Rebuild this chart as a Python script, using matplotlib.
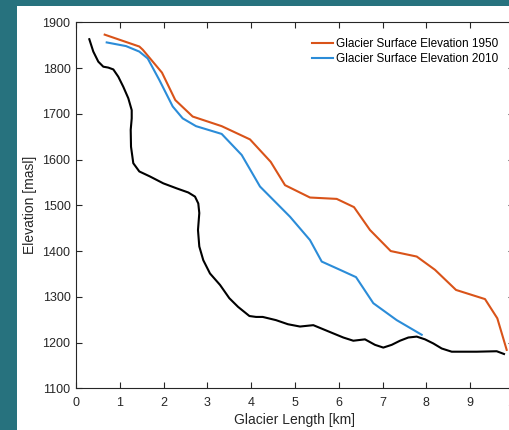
import matplotlib
matplotlib.use("Agg")
import matplotlib.pyplot as plt
from matplotlib.patches import Rectangle

# glacier surface 1950 (km, masl)
km_1950 = [0.655, 1.447, 1.525, 1.963, 2.267, 2.664, 3.326, 3.973, 4.445, 4.772,
           5.342, 5.952, 6.347, 6.712, 7.185, 7.779, 8.196, 8.676, 9.338, 9.619, 9.833]
elev_1950 = [1873, 1847, 1840, 1790, 1730, 1694, 1673, 1644, 1595, 1544,
             1517, 1514, 1496, 1446, 1400, 1388, 1359, 1315, 1295, 1253, 1184]

# glacier surface 2010
km_2010 = [0.701, 1.142, 1.445, 1.637, 1.902, 2.208, 2.436, 2.74, 3.326, 3.783,
           4.201, 4.886, 5.342, 5.61, 6.027, 6.393, 6.788, 7.322, 7.893]
elev_2010 = [1856, 1848, 1836, 1821, 1774, 1716, 1690, 1673, 1656, 1610,
             1541, 1475, 1424, 1377, 1359, 1343, 1286, 1249, 1217]

# glacier bed
km_bed = [0.304, 0.395, 0.509, 0.623, 0.737, 0.852, 0.966, 1.08, 1.194, 1.272,
          1.272, 1.249, 1.256, 1.308, 1.445, 1.689, 1.993, 2.299, 2.564, 2.717,
          2.792, 2.815, 2.785, 2.815, 2.906, 3.059, 3.288, 3.5, 3.70, 3.959,
          4.11, 4.263, 4.566, 4.84, 5.114, 5.418, 5.646, 5.874, 6.103, 6.331,
          6.598, 6.826, 7.016, 7.208, 7.397, 7.587, 7.779, 7.968, 8.158, 8.35,
          8.578, 9.148, 9.605, 9.772]
elev_bed = [1863, 1836, 1814, 1803, 1801, 1797, 1781, 1759, 1734, 1708,
            1690, 1665, 1628, 1592, 1574, 1563, 1548, 1537, 1528, 1519,
            1504, 1483, 1446, 1410, 1380, 1351, 1326, 1297, 1278, 1258,
            1256, 1256, 1249, 1240, 1235, 1238, 1229, 1220, 1211, 1204,
            1207, 1195, 1189, 1195, 1204, 1211, 1213, 1207, 1198, 1187,
            1180, 1180, 1181, 1175]

plt.rcParams['font.family'] = ['Liberation Sans', 'DejaVu Sans']

fig = plt.figure(figsize=(5.1, 4.3), dpi=100, facecolor='#27727e')
# white figure panel (screenshot is cropped, teal shows at left/top)
fig.patches.append(Rectangle((17 / 510, 0), 1, 424 / 430, transform=fig.transFigure,
                             facecolor='white', edgecolor='none', zorder=-5))

ax = fig.add_axes([76 / 510, 41.7 / 430, 438 / 510, 366 / 430])
ax.set_zorder(2)
ax.plot(km_1950, elev_1950, color='#d95319', lw=1.5, label='Glacier Surface Elevation 1950')
ax.plot(km_2010, elev_2010, color='#2b8cd8', lw=1.5, label='Glacier Surface Elevation 2010')
ax.plot(km_bed, elev_bed, color='black', lw=1.5)

ax.set_xlim(0, 10)
ax.set_ylim(1100, 1900)
ax.set_xticks(range(0, 11))
ax.set_yticks(range(1100, 1901, 100))
ax.tick_params(direction='in', length=4, width=0.8, top=True, right=True,
               labelsize=9, colors='#262626', pad=4)
ax.tick_params(axis='x', pad=6)
for s in ax.spines.values():
    s.set_color('#262626')
    s.set_linewidth(0.8)

ax.set_xlabel('Glacier Length [km]', fontsize=10, color='#262626', labelpad=3)
ax.set_ylabel('Elevation [masl]', fontsize=10, color='#262626', labelpad=4)

ax.legend(loc='upper right', frameon=False, fontsize=8.5, handlelength=1.85,
          handletextpad=0.2, labelspacing=0.27, borderpad=0, borderaxespad=0,
          bbox_to_anchor=(0.9635, 0.957))

fig.savefig('out.png', dpi=100, facecolor=fig.get_facecolor())
